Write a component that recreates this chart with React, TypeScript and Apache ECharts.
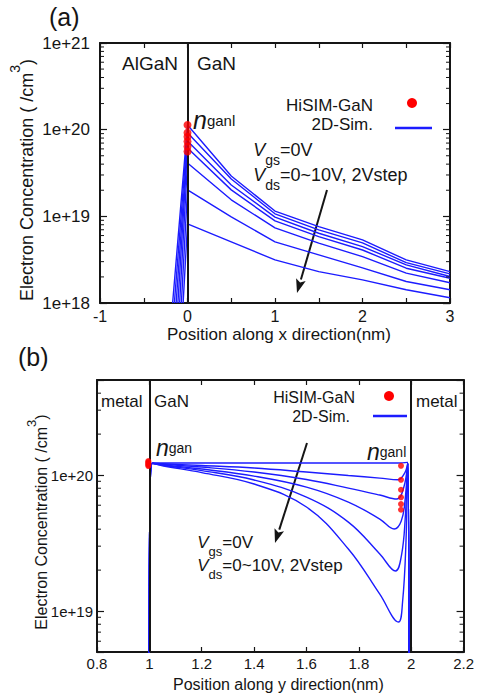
import React, { useEffect, useRef } from "react";
import * as echarts from "echarts";

const FONT = "'Liberation Sans', Arial, Helvetica, sans-serif";
const BLUE = "#1c1cff";
const RED = "#ff0000";
const INK = "#151515";

// ---------------- Panel (a): along x ----------------
const aFloor = 1e18;
const aBaseX = [-0.17, -0.15, -0.13, -0.11, -0.09, -0.07, -0.05];
const aGaNX = [0, 0.5, 1, 1.5, 2, 2.5, 3];
const aCurve1 = [1.13e20, 2.92e19, 1.15e19, 7.6e18, 5.35e18, 3.14e18, 2.3e18];
const aCurve2 = [9.2e19, 2.7e19, 1.07e19, 6.97e18, 4.93e18, 2.92e18, 2.17e18];
const aCurve3 = [7.4e19, 2.3e19, 9.8e18, 6.38e18, 4.48e18, 2.75e18, 2.02e18];
const aCurve4 = [6.15e19, 2.02e19, 8.85e18, 5.84e18, 4.09e18, 2.52e18, 1.93e18];
const aCurve5 = [4.13e19, 1.55e19, 7.35e18, 4.9e18, 3.43e18, 2.21e18, 1.71e18];
const aCurve6 = [2.02e19, 9.85e18, 5.07e18, 3.59e18, 2.54e18, 1.77e18, 1.42e18];
const aCurve7 = [8.17e18, 5.07e18, 3.14e18, 2.3e18, 1.85e18, 1.42e18, 1.15e18];
const aCurves = [aCurve1, aCurve2, aCurve3, aCurve4, aCurve5, aCurve6, aCurve7];
const aDotX = 0;
const aDots = [1.13e20, 9.2e19, 8.3e19, 7.3e19, 6.4e19, 5.6e19];
const aInterfaces = [0];
const aMinor = [
  2e18, 3e18, 4e18, 5e18, 6e18, 7e18, 8e18, 9e18,
  2e19, 3e19, 4e19, 5e19, 6e19, 7e19, 8e19, 9e19,
  2e20, 3e20, 4e20, 5e20, 6e20, 7e20, 8e20, 9e20,
];

// ---------------- Panel (b): along y ----------------
const bCurve0 = [[0.999, 3e18], [1.003, 8e19], [1.012, 1.225e20], [1.2, 1.225e20], [1.6, 1.225e20], [1.95, 1.225e20], [1.987, 1.24e20], [1.991, 3e18]];
const bCurve1 = [[0.999, 3e18], [1.003, 8e19], [1.012, 1.22e20], [1.05, 1.21e20], [1.2, 1.175e20], [1.4, 1.126e20], [1.6, 1.052e20], [1.76, 9.92e19], [1.88, 9.5e19], [1.95, 9.24e19], [1.975, 1.034e20], [1.987, 1.225e20], [1.991, 3e18]];
const bCurve2 = [[0.999, 3e18], [1.003, 8e19], [1.012, 1.22e20], [1.05, 1.2e20], [1.2, 1.145e20], [1.4, 1.052e20], [1.6, 9.27e19], [1.76, 8.02e19], [1.88, 7.13e19], [1.945, 6.66e19], [1.972, 8.16e19], [1.987, 1.225e20], [1.991, 3e18]];
const bCurve3 = [[0.999, 3e18], [1.003, 8e19], [1.012, 1.22e20], [1.05, 1.19e20], [1.2, 1.107e20], [1.4, 9.83e19], [1.6, 8.16e19], [1.76, 6.33e19], [1.88, 4.75e19], [1.935, 4.01e19], [1.962, 4.59e19], [1.977, 6.66e19], [1.987, 1.225e20], [1.991, 3e18]];
const bCurve4 = [[0.999, 3e18], [1.003, 8e19], [1.012, 1.22e20], [1.05, 1.18e20], [1.2, 1.079e20], [1.4, 9.19e19], [1.6, 6.89e19], [1.76, 4.51e19], [1.88, 2.63e19], [1.94, 1.97e19], [1.963, 2.58e19], [1.977, 4.75e19], [1.987, 1.225e20], [1.991, 3e18]];
const bCurve5 = [[0.999, 3e18], [1.003, 8e19], [1.012, 1.22e20], [1.05, 1.17e20], [1.2, 1.043e20], [1.4, 8.59e19], [1.6, 5.82e19], [1.76, 2.86e19], [1.88, 1.33e19], [1.951, 8.3e18], [1.967, 1.165e19], [1.98, 3.22e19], [1.987, 1.225e20], [1.991, 3e18]];
const bCurves = [bCurve0, bCurve1, bCurve2, bCurve3, bCurve4, bCurve5];
const bLeftDotX = 0.996;
const bLeftDots = [1.268e20, 1.246e20, 1.225e20, 1.205e20, 1.184e20, 1.165e20];
const bRightDotX = 1.961;
const bRightDots = [1.17e20, 9.23e19, 7.8e19, 6.86e19, 6.12e19, 5.56e19];
const bInterfaces = [1, 2];
const bMinor = [
  6e18, 7e18, 8e18, 9e18,
  2e19, 3e19, 4e19, 5e19, 6e19, 7e19, 8e19, 9e19,
  2e20, 3e20, 4e20,
];

const A = { xMin: -1, xMax: 3, xStep: 0.5, yMin: 1e18, yMax: 1e21 };
const B = { xMin: 0.8, xMax: 2.2, xStep: 0.2, yMin: 5e18, yMax: 5e20 };

const logLabel = (v: number) => {
  const e = Math.log10(v);
  const r = Math.round(e);
  return Math.abs(e - r) < 1e-6 ? "1e+" + r : "";
};

const frameLine = { show: true, onZero: false, lineStyle: { color: INK, width: 2 } };

function xAxes(grid: number, cfg: any, labelSize: number, margin: number, fmt?: any) {
  const base = {
    gridIndex: grid,
    type: "value",
    min: cfg.xMin,
    max: cfg.xMax,
    interval: cfg.xStep,
    splitLine: { show: false },
    axisLine: frameLine,
    axisTick: { show: true, inside: true, length: 5, lineStyle: { color: INK, width: 1.2 } },
  };
  return [
    { ...base, position: "bottom", axisLabel: { show: true, color: INK, fontFamily: FONT, fontSize: labelSize, margin, formatter: fmt } },
    { ...base, position: "top", axisLabel: { show: false } },
  ];
}
function yAxes(grid: number, cfg: any, labelSize: number, margin: number) {
  const base = {
    gridIndex: grid,
    type: "log",
    logBase: 10,
    min: cfg.yMin,
    max: cfg.yMax,
    splitLine: { show: false },
    axisLine: frameLine,
    axisTick: { show: true, inside: true, length: 7, lineStyle: { color: INK, width: 1.2 } },
  };
  return [
    { ...base, position: "left", axisLabel: { show: true, color: INK, fontFamily: FONT, fontSize: labelSize, margin, formatter: logLabel } },
    { ...base, position: "right", axisLabel: { show: false } },
  ];
}

function minorSeries(xi: number, yi: number, cfg: any, values: number[]) {
  return {
    type: "custom",
    xAxisIndex: xi,
    yAxisIndex: yi,
    silent: true,
    z: 6,
    data: values.map((v) => [cfg.xMin, v]),
    encode: { x: 0, y: 1 },
    renderItem: (_p: any, api: any) => {
      const v = api.value(1);
      const p = api.coord([cfg.xMin, v]);
      const q = api.coord([cfg.xMax, v]);
      return {
        type: "group",
        children: [
          { type: "line", shape: { x1: p[0], y1: p[1], x2: p[0] + 4, y2: p[1] }, style: { stroke: INK, lineWidth: 1 } },
          { type: "line", shape: { x1: q[0], y1: q[1], x2: q[0] - 4, y2: q[1] }, style: { stroke: INK, lineWidth: 1 } },
        ],
      };
    },
  };
}

function lineSeries(xi: number, yi: number, data: number[][], smooth: any, withMark?: number[]) {
  const s: any = {
    type: "line",
    xAxisIndex: xi,
    yAxisIndex: yi,
    data,
    showSymbol: false,
    symbol: "none",
    smooth,
    lineStyle: { color: BLUE, width: 1.4 },
    z: 3,
    silent: true,
  };
  if (withMark) {
    s.markLine = {
      silent: true,
      symbol: "none",
      label: { show: false },
      lineStyle: { color: INK, width: 2, type: "solid" },
      data: withMark.map((x) => ({ xAxis: x })),
      z: 4,
    };
  }
  return s;
}

function dotSeries(xi: number, yi: number, x: number, vals: number[], size: number) {
  return {
    type: "scatter",
    xAxisIndex: xi,
    yAxisIndex: yi,
    data: vals.map((v) => [x, v]),
    symbol: "circle",
    symbolSize: size,
    itemStyle: { color: RED },
    z: 5,
    silent: true,
  };
}

const txt = (x: number, y: number, text: string, size: number, extra: any = {}) => ({
  type: "text",
  x,
  y,
  silent: true,
  style: { text, fill: INK, font: `${size}px ${FONT}`, verticalAlign: "middle", ...extra },
});

const subText = (x: number, y: number, base: string, sub: string, rest: string, size: number, subSize: number, lh: number) => ({
  type: "text",
  x,
  y,
  silent: true,
  style: {
    text: `{h| }{v|${base}}{s|${sub}}{n|${rest}}`,
    verticalAlign: "top",
    fill: INK,
    rich: {
      h: { fontSize: 1, lineHeight: lh, fontFamily: FONT },
      v: { fontSize: size, fontStyle: "italic", fontFamily: FONT, lineHeight: size + 2, verticalAlign: "top", fill: INK },
      s: { fontSize: subSize, fontFamily: FONT, lineHeight: subSize, verticalAlign: "bottom", fill: INK },
      n: { fontSize: size, fontFamily: FONT, lineHeight: size + 2, verticalAlign: "top", fill: INK },
    },
  },
});

const nLabel = (x: number, y: number, sub: string, size: number, subSize: number) => ({
  type: "text",
  x,
  y,
  silent: true,
  style: {
    text: `{n|n}{s|${sub}}`,
    verticalAlign: "middle",
    fill: INK,
    rich: {
      n: { fontSize: size, fontStyle: "italic", fontFamily: FONT, fill: INK },
      s: { fontSize: subSize, fontFamily: FONT, fill: INK },
    },
  },
});

const yTitle = (x: number, y: number, size: number, supSize: number, lh: number) => ({
  type: "text",
  x,
  y,
  rotation: Math.PI / 2,
  silent: true,
  style: {
    text: "{a|Electron Concentration ( /cm}{s|3}{a|)}",
    align: "center",
    verticalAlign: "middle",
    fill: INK,
    rich: {
      a: { fontSize: size, fontFamily: FONT, lineHeight: lh, verticalAlign: "middle", fill: INK },
      s: { fontSize: supSize, fontFamily: FONT, lineHeight: supSize, verticalAlign: "top", fill: INK },
    },
  },
});

function arrow(x1: number, y1: number, x2: number, y2: number) {
  const dx = x2 - x1;
  const dy = y2 - y1;
  const len = Math.hypot(dx, dy);
  const ux = dx / len;
  const uy = dy / len;
  const hl = 14;
  const hw = 5;
  const bx = x2 - ux * hl;
  const by = y2 - uy * hl;
  return [
    { type: "line", silent: true, shape: { x1, y1, x2: bx, y2: by }, style: { stroke: INK, lineWidth: 2 } },
    {
      type: "polygon",
      silent: true,
      shape: { points: [[x2, y2], [bx - uy * hw, by + ux * hw], [bx + ux * 3, by + uy * 3], [bx + uy * hw, by - ux * hw]] },
      style: { fill: INK },
    },
  ];
}

export default function App() {
  const ref = useRef<HTMLDivElement>(null);
  useEffect(() => {
    if (!ref.current) return;
    const chart = echarts.init(ref.current, undefined, { renderer: "svg" });

    const series: any[] = [];
    aCurves.forEach((c, i) => {
      const data = [[aBaseX[i], aFloor], ...aGaNX.map((x, j) => [x, c[j]])];
      series.push(lineSeries(0, 0, data, false, i === 0 ? aInterfaces : undefined));
    });
    series.push(dotSeries(0, 0, aDotX, aDots, 8));
    series.push(minorSeries(0, 0, A, aMinor));

    bCurves.forEach((c, i) => {
      series.push(lineSeries(2, 2, c, 0.4, i === 0 ? bInterfaces : undefined));
    });
    series.push(dotSeries(2, 2, bLeftDotX, bLeftDots, 6));
    series.push(dotSeries(2, 2, bRightDotX, bRightDots, 6));
    series.push(minorSeries(2, 2, B, bMinor));

    const intLabel = (v: number) => (Math.abs(v - Math.round(v)) < 1e-9 ? String(Math.round(v)) : "");

    const option: any = {
      animation: false,
      backgroundColor: "#ffffff",
      grid: [
        { left: 100, top: 43, width: 350, height: 260, containLabel: false },
        { left: 97, top: 380, width: 368, height: 272, containLabel: false },
      ],
      xAxis: [...xAxes(0, A, 16, 5, intLabel), ...xAxes(1, B, 15, 4)],
      yAxis: [...yAxes(0, A, 17, 10), ...yAxes(1, B, 15, 4)],
      series,
      graphic: {
        elements: [
          // panel (a)
          txt(49, 17, "(a)", 25),
          txt(122, 63, "AlGaN", 19),
          txt(197, 63, "GaN", 19),
          nLabel(193, 120, "ganl", 25, 15),
          txt(373, 105, "HiSIM-GaN", 17, { align: "right" }),
          { type: "circle", silent: true, shape: { cx: 412, cy: 103, r: 5 }, style: { fill: RED } },
          txt(373, 124, "2D-Sim.", 17, { align: "right" }),
          { type: "line", silent: true, shape: { x1: 395, y1: 128, x2: 432, y2: 128 }, style: { stroke: BLUE, lineWidth: 2.5 } },
          subText(253, 141, "V", "gs", "=0V", 18, 14, 26),
          subText(253, 166, "V", "ds", "=0~10V, 2Vstep", 18, 14, 26),
          ...arrow(327, 190, 297, 293),
          txt(167, 334, "Position along x direction(nm)", 17),
          yTitle(27, 180, 18, 14, 39),
          // panel (b)
          txt(18, 357, "(b)", 25),
          txt(101, 401, "metal", 17),
          txt(154, 401, "GaN", 17),
          txt(416, 401, "metal", 17),
          nLabel(156, 448, "gan", 23, 14),
          nLabel(367, 452, "ganl", 23, 14),
          txt(355, 397, "HiSIM-GaN", 16, { align: "right" }),
          { type: "circle", silent: true, shape: { cx: 389, cy: 396, r: 5 }, style: { fill: RED } },
          txt(350, 416, "2D-Sim.", 16, { align: "right" }),
          { type: "line", silent: true, shape: { x1: 373, y1: 416, x2: 407, y2: 416 }, style: { stroke: BLUE, lineWidth: 2.5 } },
          subText(197, 534, "V", "gs", "=0V", 17, 13, 24),
          subText(197, 557, "V", "ds", "=0~10V, 2Vstep", 17, 13, 24),
          ...arrow(307, 443, 275, 543),
          txt(173, 684, "Position along y direction(nm)", 16),
          yTitle(41, 522, 16, 13, 32),
        ],
      },
    };
    chart.setOption(option);
    return () => chart.dispose();
  }, []);
  return (
    <div
      ref={ref}
      style={{ position: "fixed", left: 0, top: 0, width: 477, height: 693, background: "#fff" }}
    />
  );
}
